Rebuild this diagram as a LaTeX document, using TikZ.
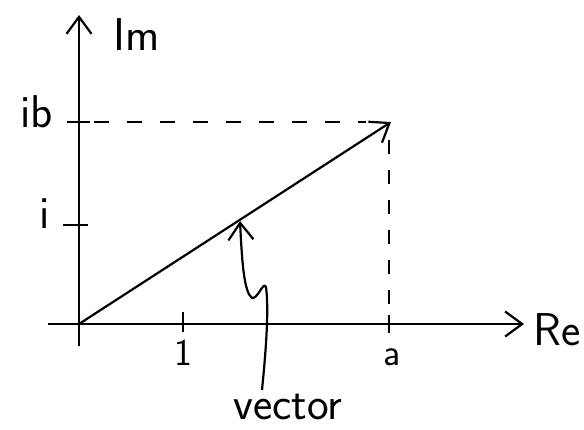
\documentclass[tikz,border=0pt]{standalone}
\usetikzlibrary{arrows.meta}
\begin{document}
\begin{tikzpicture}[x=1pt,y=-1pt,
  axis/.style={line width=2.6pt},
  thin line/.style={line width=2.2pt},
  barb/.style={-{Straight Barb[length=17pt,width=25pt,line width=2.2pt]}},
  dashline/.style={line width=2.2pt,dash pattern=on 15pt off 18pt},
  lbl/.style={inner sep=0pt,font=\sffamily\fontsize{46}{46}\selectfont},
  small/.style={inner sep=0pt,font=\sffamily\fontsize{38}{38}\selectfont}]
\useasboundingbox (0,0) rectangle (584,429);
% coordinates
\coordinate (O) at (79,324);
\coordinate (xl) at (48,324);
\coordinate (xr) at (524,324);
\coordinate (yb) at (79,346);
\coordinate (yt) at (79,15);
\coordinate (P) at (391,122);
\coordinate (vtip) at (240,221);
\coordinate (vstart) at (262,390);
% axes
\draw[axis] (xl) -- (O);
\draw[axis,barb] (O) -- (xr);
\draw[axis] (yb) -- (O);
\draw[axis,barb] (O) -- (yt);
% ticks
\coordinate (tib1) at (67,122); \coordinate (tib2) at (90,122);
\coordinate (ti1) at (63,225); \coordinate (ti2) at (88,225);
\coordinate (t11) at (183,312); \coordinate (t12) at (183,332);
\coordinate (ta1) at (389,315); \coordinate (ta2) at (389,333);
\draw[thin line] (tib1) -- (tib2);
\draw[thin line] (ti1) -- (ti2);
\draw[thin line] (t11) -- (t12);
\draw[thin line] (ta1) -- (ta2);
% dashed guides
\coordinate (dh1) at (94,122); \coordinate (dh2) at (366,122);
\coordinate (dv1) at (389,140); \coordinate (dv2) at (389,318);
\draw[dashline] (dh1) -- (dh2);
\draw[line width=2pt,dash pattern=on 14pt off 16pt] (dv1) -- (dv2);
% vector
\draw[thin line,barb] (O) -- (P);
% labels
\node[lbl,anchor=base west] (im) at (113,50) {Im};
\node[lbl,anchor=base west] (re) at (533,345) {Re};
\node[lbl,anchor=base east] (ib) at (53,127) {ib};
\node[lbl,anchor=base] (i) at (45,228) {i};
\node[small,anchor=base] (one) at (183,365) {1};
\node[small,anchor=base] (a) at (392,365) {a};
\node[lbl,anchor=base] (vec) at (288,419) {vector};
% pointer
\draw[thin line,barb] (vstart) .. controls (266,350) and (269,310) .. (266,287)
  .. controls (263,281) and (258,299) .. (252,298)
  .. controls (244,292) and (242,262) .. (vtip);
\end{tikzpicture}
\end{document}
